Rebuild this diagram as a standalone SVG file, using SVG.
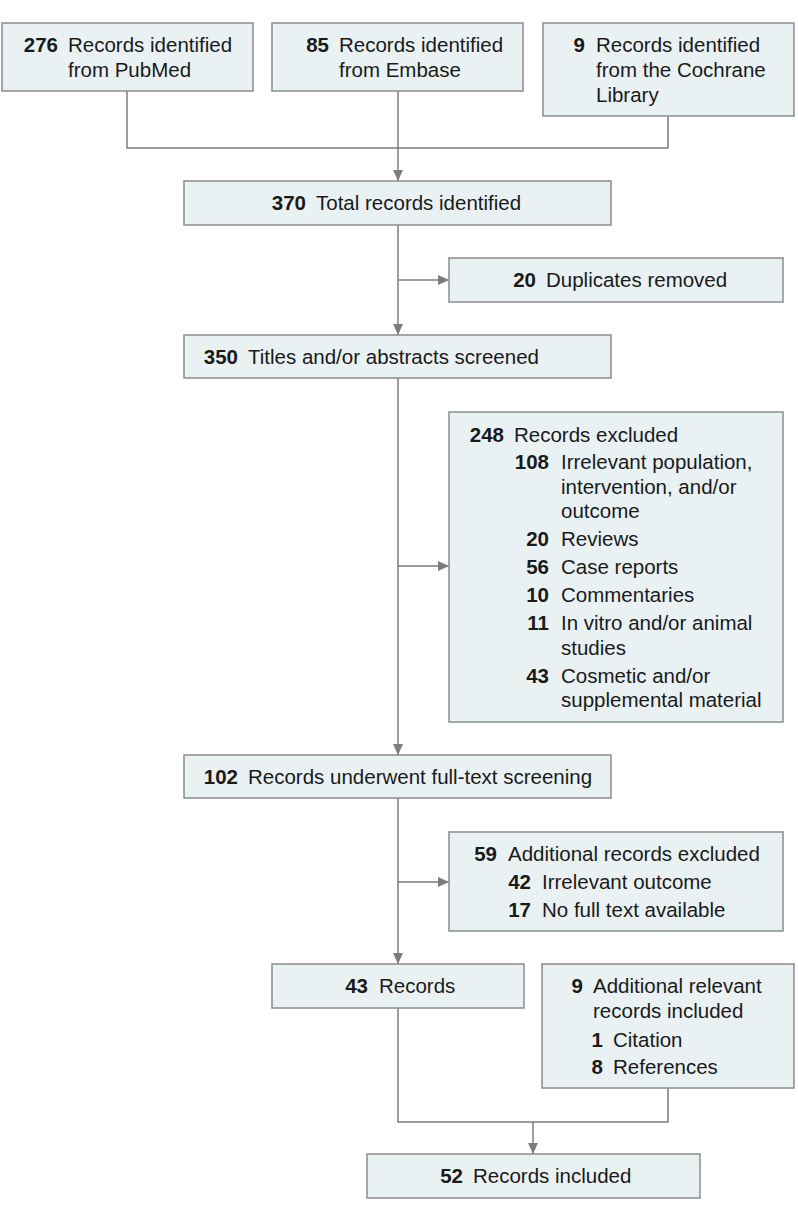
<svg xmlns="http://www.w3.org/2000/svg" width="798" height="1218" viewBox="0 0 798 1218">
<defs>
<style>
.box{fill:#e9f1f3;stroke:#8c8c8c;stroke-width:1.5}
.c{fill:none;stroke:#7d7d7d;stroke-width:1.5}
text{font-family:"Liberation Sans",Arial,sans-serif;font-size:20.5px;fill:#1a1a1a}
.n{font-weight:bold;text-anchor:end}
</style>
<marker id="ah" markerUnits="userSpaceOnUse" markerWidth="12" markerHeight="12" viewBox="0 0 12 12" refX="11" refY="6" orient="auto">
<path d="M0,1 L11,6 L0,11 Z" fill="#7d7d7d"/>
</marker>
</defs>
<rect width="798" height="1218" fill="#ffffff"/>
<g id="connectors">
<path class="c" d="M127,91 V148 H668 V116"/>
<path class="c" d="M398,91 V181" marker-end="url(#ah)"/>
<path class="c" d="M398,225 V335" marker-end="url(#ah)"/>
<path class="c" d="M398,280 H449" marker-end="url(#ah)"/>
<path class="c" d="M398,378 V755" marker-end="url(#ah)"/>
<path class="c" d="M398,566 H449" marker-end="url(#ah)"/>
<path class="c" d="M398,798 V964" marker-end="url(#ah)"/>
<path class="c" d="M398,882 H449" marker-end="url(#ah)"/>
<path class="c" d="M398,1008 V1122 H668 V1088"/>
<path class="c" d="M533,1122 V1154" marker-end="url(#ah)"/>
</g>
<g id="pubmed">
<rect class="box" x="2" y="23" width="251" height="68"/>
<text class="n" x="58" y="52">276</text>
<text x="68" y="52">Records identified</text>
<text x="68" y="77">from PubMed</text>
</g>
<g id="embase">
<rect class="box" x="272" y="23" width="251" height="68"/>
<text class="n" x="329" y="52">85</text>
<text x="339" y="52">Records identified</text>
<text x="339" y="77">from Embase</text>
</g>
<g id="cochrane">
<rect class="box" x="543" y="23" width="251" height="93"/>
<text class="n" x="585" y="52">9</text>
<text x="596" y="52">Records identified</text>
<text x="596" y="77">from the Cochrane</text>
<text x="596" y="102">Library</text>
</g>
<g id="total">
<rect class="box" x="184" y="181" width="427" height="44"/>
<text class="n" x="306" y="210">370</text>
<text x="316" y="210">Total records identified</text>
</g>
<g id="duplicates">
<rect class="box" x="449" y="258" width="334" height="44"/>
<text class="n" x="536" y="287">20</text>
<text x="546" y="287">Duplicates removed</text>
</g>
<g id="screened">
<rect class="box" x="184" y="335" width="427" height="43"/>
<text class="n" x="238" y="364">350</text>
<text x="248" y="364">Titles and/or abstracts screened</text>
</g>
<g id="excluded">
<rect class="box" x="449" y="412" width="334" height="310"/>
<text class="n" x="504" y="442">248</text>
<text x="514" y="442">Records excluded</text>
<text class="n" x="549" y="469">108</text>
<text x="561" y="469">Irrelevant population,</text>
<text x="561" y="493.5">intervention, and/or</text>
<text x="561" y="518">outcome</text>
<text class="n" x="549" y="546">20</text>
<text x="561" y="546">Reviews</text>
<text class="n" x="549" y="574">56</text>
<text x="561" y="574">Case reports</text>
<text class="n" x="549" y="602">10</text>
<text x="561" y="602">Commentaries</text>
<text class="n" x="549" y="630">11</text>
<text x="561" y="630">In vitro and/or animal</text>
<text x="561" y="654.5">studies</text>
<text class="n" x="549" y="682.5">43</text>
<text x="561" y="682.5">Cosmetic and/or</text>
<text x="561" y="707">supplemental material</text>
</g>
<g id="fulltext">
<rect class="box" x="184" y="755" width="427" height="43"/>
<text class="n" x="238" y="784">102</text>
<text x="248" y="784">Records underwent full-text screening</text>
</g>
<g id="additional-excluded">
<rect class="box" x="449" y="832" width="334" height="99"/>
<text class="n" x="497" y="861">59</text>
<text x="508" y="861">Additional records excluded</text>
<text class="n" x="531" y="889">42</text>
<text x="542" y="889">Irrelevant outcome</text>
<text class="n" x="531" y="917">17</text>
<text x="542" y="917">No full text available</text>
</g>
<g id="records43">
<rect class="box" x="272" y="964" width="252" height="44"/>
<text class="n" x="368" y="993">43</text>
<text x="379" y="993">Records</text>
</g>
<g id="additional-included">
<rect class="box" x="542" y="964" width="252" height="124"/>
<text class="n" x="583" y="993">9</text>
<text x="593" y="993">Additional relevant</text>
<text x="593" y="1018">records included</text>
<text class="n" x="603" y="1047">1</text>
<text x="613" y="1047">Citation</text>
<text class="n" x="603" y="1074">8</text>
<text x="613" y="1074">References</text>
</g>
<g id="included">
<rect class="box" x="367" y="1154" width="333" height="44"/>
<text class="n" x="463" y="1183">52</text>
<text x="473" y="1183">Records included</text>
</g>
</svg>
